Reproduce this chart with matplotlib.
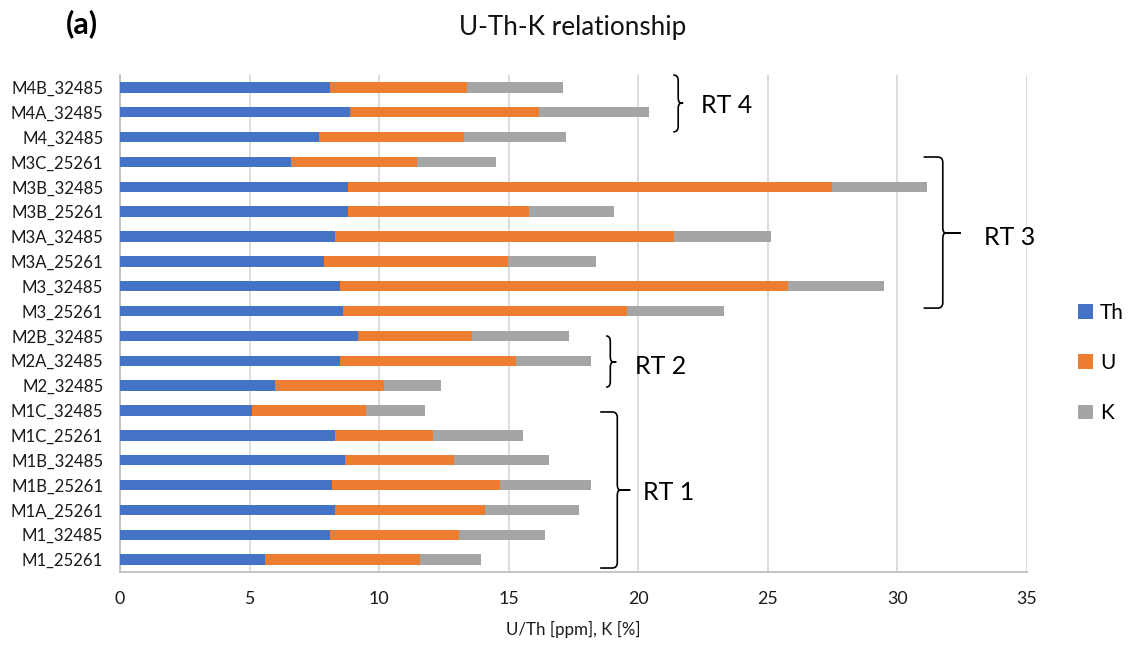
import matplotlib
matplotlib.use("Agg")
import matplotlib.pyplot as plt
from matplotlib.patches import Patch, PathPatch
from matplotlib.path import Path
import numpy as np

plt.rcParams['font.family'] = ['Lato', 'DejaVu Sans']

# Samples listed bottom to top
samples = ["M1_25261", "M1_32485", "M1A_25261", "M1B_25261", "M1B_32485",
           "M1C_25261", "M1C_32485", "M2_32485", "M2A_32485", "M2B_32485",
           "M3_25261", "M3_32485", "M3A_25261", "M3A_32485", "M3B_25261",
           "M3B_32485", "M3C_25261", "M4_32485", "M4A_32485", "M4B_32485"]

th = [5.59, 8.09, 8.28, 8.18, 8.67, 8.28, 5.09, 5.99, 8.49, 9.18,
      8.59, 8.48, 7.87, 8.28, 8.79, 8.79, 6.58, 7.67, 8.88, 8.09]
u = [5.98, 4.99, 5.80, 6.48, 4.21, 3.79, 4.40, 4.19, 6.79, 4.40,
     10.99, 17.30, 7.10, 13.11, 6.99, 18.70, 4.90, 5.61, 7.30, 5.30]
k = [2.36, 3.32, 3.62, 3.51, 3.69, 3.47, 2.27, 2.21, 2.90, 3.74,
     3.74, 3.71, 3.40, 3.74, 3.28, 3.64, 3.03, 3.93, 4.23, 3.72]

series_names = ["Th", "U", "K"]
colors = ["#4472C4", "#ED7D31", "#A5A5A5"]

fig = plt.figure(figsize=(11.32, 6.48), dpi=100)
ax = fig.add_axes([120 / 1132, 1 - 572 / 648, 907 / 1132, 497 / 648])

y = np.arange(len(samples))
left = np.zeros(len(samples))
for vals, col, name in zip([th, u, k], colors, series_names):
    ax.barh(y, vals, left=left, height=0.42, color=col, label=name, zorder=3)
    left += np.array(vals)

ax.set_xlim(0, 35)
ax.set_ylim(-0.5, len(samples) - 0.5)
ax.set_xticks(np.arange(0, 36, 5))
ax.set_yticks(y)
ax.set_yticklabels(samples)
ax.tick_params(axis='y', length=0, pad=12, labelsize=12.1, colors='#1a1a1a')
ax.tick_params(axis='x', length=0, pad=14, labelsize=12.8, colors='#1a1a1a')
ax.grid(axis='x', color='#D9D9D9', linewidth=1.3, zorder=0)
for side in ['top', 'right']:
    ax.spines[side].set_visible(False)
for side in ['left', 'bottom']:
    ax.spines[side].set_color('#BFBFBF')
    ax.spines[side].set_linewidth(1.3)

ax.set_xlabel("U/Th [ppm], K [%]", fontsize=12.2, color='#1a1a1a', labelpad=10)

fig.text(573 / 1132, 1 - 27 / 648, "U-Th-K relationship", fontsize=18.8,
         ha='center', va='center', color='#111111')
fig.text(82 / 1132, 1 - 24 / 648, "(a)", fontsize=22, fontweight='bold',
         ha='center', va='center', color='#000000')

# Group braces: (x_start, x_spine, x_tip, y_top, y_bottom, y_mid, label, label_x, label_y)
braces = [
    (21.35, 21.54, 21.73, 19.50, 17.21, 18.37, "RT 4", 22.43, 18.29),
    (31.01, 31.75, 32.44, 16.20, 10.12, 13.14, "RT 3", 33.33, 12.98),
    (18.76, 18.92, 19.15, 9.00, 6.94, 7.95, "RT 2", 19.88, 7.75),
    (18.53, 19.19, 19.69, 5.94, -0.34, 2.80, "RT 1", 20.19, 2.68),
]
hr, vr = 0.2, 0.22
for x0, x1, xt, yt, yb, ym, lab, lx, ly in braces:
    hx = min(hr, x1 - x0)
    verts = [
        (x0, yt), (x1 - hx, yt), (x1, yt), (x1, yt - vr),
        (x1, ym + vr), (x1, ym), (x1 + 0.12, ym), (xt, ym),
        (x1 + 0.12, ym), (x1, ym), (x1, ym - vr),
        (x1, yb + vr), (x1, yb), (x1 - hx, yb), (x0, yb),
    ]
    codes = [
        Path.MOVETO, Path.LINETO, Path.CURVE3, Path.CURVE3,
        Path.LINETO, Path.CURVE3, Path.CURVE3, Path.LINETO,
        Path.LINETO, Path.CURVE3, Path.CURVE3,
        Path.LINETO, Path.CURVE3, Path.CURVE3, Path.LINETO,
    ]
    ax.add_patch(PathPatch(Path(verts, codes), fill=False, edgecolor='black',
                           linewidth=1.2, clip_on=False, zorder=4))
    ax.text(lx, ly, lab, fontsize=18, ha='left', va='center', color='black',
            clip_on=False)

handles = [Patch(facecolor=c, edgecolor='none', label=n)
           for c, n in zip(colors, series_names)]
fig.legend(handles=handles, loc='center left',
           bbox_to_anchor=(1078 / 1132, 1 - 363 / 648), frameon=False,
           fontsize=15, handlelength=0.7, handleheight=0.7,
           handletextpad=0.35, labelspacing=1.45, borderpad=0, borderaxespad=0)

fig.savefig("out.png", dpi=100)
